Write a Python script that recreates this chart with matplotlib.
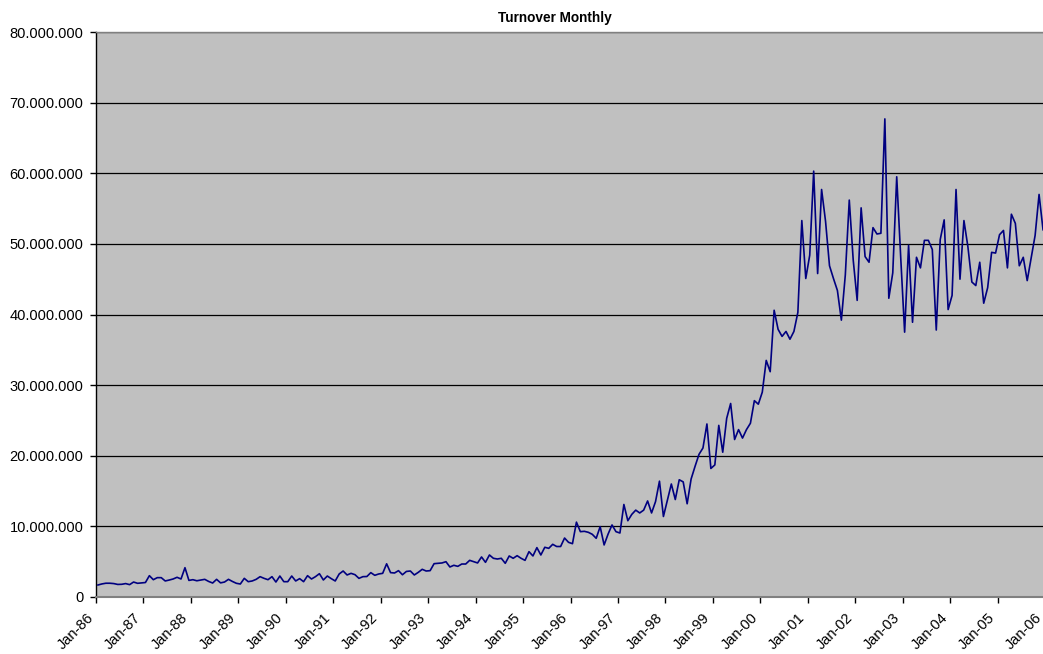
import matplotlib
matplotlib.use("Agg")
import matplotlib.pyplot as plt
from matplotlib.ticker import FuncFormatter, FixedLocator
import matplotlib.transforms as mtransforms

# Monthly turnover (millions), Jan-1986 ... Dec-2005
monthly_turnover_m = [
    # 1986
    1.70, 1.85, 1.95, 1.95, 1.90, 1.78, 1.80, 1.90, 1.75, 2.12, 1.94, 2.00,
    # 1987
    2.05, 3.02, 2.45, 2.74, 2.74, 2.27, 2.40, 2.55, 2.79, 2.55, 4.15, 2.35,
    # 1988
    2.45, 2.30, 2.40, 2.50, 2.20, 1.98, 2.50, 2.00, 2.12, 2.50, 2.20, 1.94,
    # 1989
    1.84, 2.64, 2.17, 2.27, 2.50, 2.88, 2.64, 2.45, 2.88, 2.12, 2.97, 2.17,
    # 1990
    2.17, 2.97, 2.27, 2.60, 2.17, 3.02, 2.55, 2.88, 3.30, 2.41, 2.97, 2.60,
    # 1991
    2.27, 3.26, 3.68, 3.12, 3.35, 3.16, 2.64, 2.88, 2.90, 3.45, 3.07, 3.26,
    # 1992
    3.35, 4.70, 3.45, 3.40, 3.73, 3.15, 3.62, 3.68, 3.12, 3.49, 3.92, 3.68,
    # 1993
    3.73, 4.72, 4.77, 4.82, 5.00, 4.25, 4.49, 4.34, 4.67, 4.67, 5.19, 5.00,
    # 1994
    4.82, 5.67, 4.91, 5.95, 5.48, 5.38, 5.48, 4.77, 5.81, 5.48, 5.85, 5.48,
    # 1995
    5.19, 6.42, 5.81, 6.99, 5.95, 7.04, 6.89, 7.46, 7.15, 7.15, 8.35, 7.74,
    # 1996
    7.55, 10.6, 9.25, 9.30, 9.16, 8.88, 8.31, 9.96, 7.37, 8.90, 10.2, 9.25,
    # 1997
    9.06, 13.1, 10.8, 11.7, 12.3, 11.9, 12.3, 13.6, 11.9, 13.5, 16.4, 11.4,
    # 1998
    13.7, 16.0, 13.8, 16.6, 16.3, 13.2, 16.7, 18.5, 20.2, 21.1, 24.5, 18.2,
    # 1999
    18.7, 24.3, 20.5, 25.3, 27.4, 22.3, 23.7, 22.5, 23.7, 24.6, 27.8, 27.3,
    # 2000
    29.0, 33.5, 31.9, 40.6, 37.9, 36.9, 37.6, 36.5, 37.6, 40.3, 53.3, 45.1,
    # 2001
    48.4, 60.3, 45.8, 57.7, 53.2, 46.9, 45.1, 43.4, 39.2, 45.6, 56.2, 47.7,
    # 2002
    42.0, 55.1, 48.2, 47.4, 52.3, 51.4, 51.5, 67.7, 42.3, 45.9, 59.5, 48.2,
    # 2003
    37.5, 49.8, 38.9, 48.1, 46.6, 50.5, 50.5, 49.2, 37.8, 50.6, 53.4, 40.7,
    # 2004
    42.7, 57.7, 45.0, 53.3, 49.6, 44.6, 44.1, 47.4, 41.6, 43.8, 48.8, 48.7,
    # 2005
    51.3, 51.9, 46.6, 54.2, 52.9, 46.9, 48.1, 44.8, 48.0, 51.2, 57.0, 52.0,
]

year_labels = ["Jan-86", "Jan-87", "Jan-88", "Jan-89", "Jan-90", "Jan-91",
               "Jan-92", "Jan-93", "Jan-94", "Jan-95", "Jan-96", "Jan-97",
               "Jan-98", "Jan-99", "Jan-00", "Jan-01", "Jan-02", "Jan-03",
               "Jan-04", "Jan-05", "Jan-06"]

title_text = "Turnover Monthly"
y_ticks = [0, 10e6, 20e6, 30e6, 40e6, 50e6, 60e6, 70e6, 80e6]

plt.rcParams['font.family'] = ['Liberation Sans', 'DejaVu Sans']

W, H = 1043, 654
fig = plt.figure(figsize=(W / 100, H / 100), dpi=100)
fig.patch.set_facecolor("white")

left_px, right_px, top_px, bottom_px = 96, 1045, 32, 597
ax = fig.add_axes([left_px / W, (H - bottom_px) / H,
                   (right_px - left_px) / W, (bottom_px - top_px) / H])
ax.set_facecolor("#C0C0C0")

months = list(range(len(monthly_turnover_m)))
values = [v * 1e6 for v in monthly_turnover_m]
ax.plot(months, values, color="#000080", lw=1.2, zorder=3, clip_on=True)

ax.set_xlim(-0.5, 12 * (len(year_labels) - 1) - 0.5)
ax.set_ylim(0, 80e6)

tick_pos = [12 * i - 0.5 for i in range(len(year_labels))]
ax.xaxis.set_major_locator(FixedLocator(tick_pos))
ax.set_xticklabels(year_labels, rotation=45, ha="right", fontsize=10.5)
offset = mtransforms.ScaledTranslation(-4 / 100, 0, fig.dpi_scale_trans)
for lab in ax.get_xticklabels():
    lab.set_transform(lab.get_transform() + offset)

ax.yaxis.set_major_locator(FixedLocator(y_ticks))
ax.yaxis.set_major_formatter(FuncFormatter(lambda v, p: f"{int(round(v)):,}".replace(",", ".")))
ax.tick_params(axis="y", labelsize=10.5, direction="out", length=4, width=1, color="black", pad=5)
ax.tick_params(axis="x", direction="out", length=4, width=1, color="black", pad=6)

ax.yaxis.grid(True, color="black", lw=0.9)
ax.set_axisbelow(True)

ax.spines["left"].set_color("black")
ax.spines["left"].set_linewidth(1.0)
ax.spines["bottom"].set_color("#808080")
ax.spines["bottom"].set_linewidth(1.5)
ax.spines["top"].set_color("#808080")
ax.spines["top"].set_linewidth(1.0)
ax.spines["right"].set_visible(False)

fig.text(555 / W, 1 - 18 / H, title_text, ha="center", va="center",
         fontsize=9.8, fontweight="bold")

fig.savefig("out.png", dpi=100, facecolor="white")
